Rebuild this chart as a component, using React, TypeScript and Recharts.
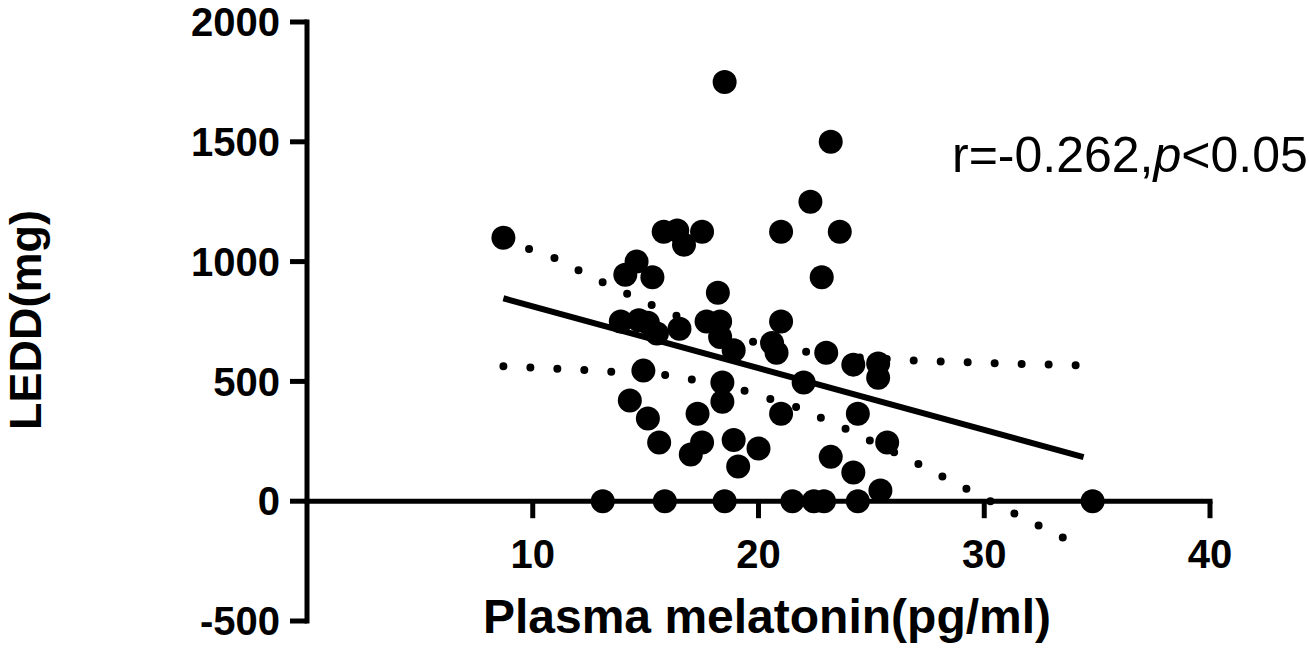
import { ReferenceLine, Scatter, ScatterChart, XAxis, YAxis } from 'recharts'

// ---- data ----
const xTicks = [10, 20, 30, 40]
const yTicks = [-500, 0, 500, 1000, 1500, 2000]

// plasma melatonin (pg/ml) and LEDD (mg) per patient
const melatonin = [
  8.7, 18.5, 23.2, 22.3, 15.8, 16.4, 16.7, 17.5, 21.0, 23.6,
  14.6, 14.1, 15.3, 18.2, 22.8, 13.9, 14.7, 15.1, 15.5, 16.5,
  17.7, 18.3, 18.3, 18.9, 21.0, 20.6, 20.8, 23.0, 24.2, 25.3,
  25.3, 14.9, 14.3, 15.1, 15.6, 18.4, 18.4, 17.3, 17.0, 17.5,
  18.9, 20.0, 19.1, 21.0, 22.0, 24.4, 25.7, 23.2, 24.2, 25.4,
  13.1, 15.85, 18.5, 21.5, 22.45, 22.9, 24.4, 34.8,
]
const ledd = [
  1100, 1750, 1500, 1250, 1125, 1130, 1070, 1125, 1125, 1125,
  1000, 945, 935, 870, 935, 750, 755, 745, 700, 720,
  750, 750, 685, 630, 750, 660, 620, 620, 570, 575,
  515, 545, 420, 345, 245, 495, 415, 365, 195, 245,
  255, 220, 145, 365, 495, 365, 245, 185, 120, 45,
  0, 0, 0, 0, 0, 0, 0, 0,
]

// linear fit
const fitX = [8.7, 34.4]
const fitY = [847, 184]

// 95% confidence bands
const upperX = [8.7, 10.8, 12.9, 15.1, 16.2, 17.9, 19.6, 21.9, 24.0, 26.7, 30.3, 34.4]
const upperY = [1088, 1023, 922, 826, 780, 720, 668, 626, 602, 588, 576, 567]
const lowerX = [8.7, 12.3, 15.9, 17.0, 19.3, 21.7, 23.8, 27.1, 31.3, 34.4]
const lowerY = [563, 547, 526, 509, 463, 392, 305, 154, -50, -195]

const zip = (xs: number[], ys: number[]) => xs.map((x, i) => ({ x, y: ys[i] }))

const points = zip(melatonin, ledd)
const fitLine = zip(fitX, fitY)
const upperBand = zip(upperX, upperY)
const lowerBand = zip(lowerX, lowerY)

// ---- layout ----
const FONT = '"Liberation Sans", Arial, Helvetica, sans-serif'
const W = 1309
const H = 648
const X_AXIS_H = 27
const MARGIN = { top: 22, right: 99, bottom: 0, left: 0 }
const Y_MIN = -500
const Y_MAX = 2000
const PLOT_H = H - MARGIN.top - MARGIN.bottom - X_AXIS_H
// x axis crosses at y = 0, not at the bottom of the plot
const ZERO_FROM_BOTTOM = (PLOT_H * (0 - Y_MIN)) / (Y_MAX - Y_MIN)

function XTick({ x, y, payload }: { x?: number; y?: number; payload?: { value: number } }) {
  const y0 = Number(y ?? 0) - ZERO_FROM_BOTTOM
  return (
    <g>
      <line x1={x} x2={x} y1={y0} y2={y0 + 17} stroke="#000" strokeWidth={5} />
      <text
        x={x}
        y={y0 + 67}
        textAnchor="middle"
        fill="#000"
        fontSize={40}
        fontWeight={700}
        fontFamily={FONT}
      >
        {payload?.value}
      </text>
    </g>
  )
}

const Dot = (props: { cx?: number; cy?: number }) => (
  <circle cx={props.cx} cy={props.cy} r={12} fill="#000" />
)
const NoDot = () => <g />

const dottedLine = {
  stroke: '#000',
  strokeWidth: 8,
  strokeDasharray: '0 27',
  strokeLinecap: 'round' as const,
}

export default function App() {
  return (
    <div style={{ position: 'absolute', left: 0, top: 0, width: W, height: H, background: '#fff' }}>
      <ScatterChart width={W} height={H} margin={MARGIN}>
        <XAxis
          type="number"
          dataKey="x"
          domain={[0, 40]}
          ticks={xTicks}
          interval={0}
          height={X_AXIS_H}
          axisLine={false}
          tickLine={false}
          tickSize={0}
          tickMargin={0}
          tick={(p: any) => <XTick {...p} />}
        />
        <YAxis
          type="number"
          dataKey="y"
          domain={[Y_MIN, Y_MAX]}
          ticks={yTicks}
          interval={0}
          width={307}
          tickSize={17}
          tickMargin={10}
          axisLine={{ stroke: '#000', strokeWidth: 5, strokeLinecap: 'square' }}
          tickLine={{ stroke: '#000', strokeWidth: 5 }}
          tick={{ fill: '#000', fontSize: 40, fontWeight: 700, fontFamily: FONT }}
        />
        <ReferenceLine y={0} stroke="#000" strokeWidth={5} strokeLinecap="square" />
        <Scatter data={upperBand} line={dottedLine} shape={NoDot} isAnimationActive={false} />
        <Scatter data={lowerBand} line={dottedLine} shape={NoDot} isAnimationActive={false} />
        <Scatter
          data={fitLine}
          line={{ stroke: '#000', strokeWidth: 6 }}
          shape={NoDot}
          isAnimationActive={false}
        />
        <Scatter data={points} shape={Dot} isAnimationActive={false} />
      </ScatterChart>
      <svg
        width={W}
        height={H}
        style={{ position: 'absolute', left: 0, top: 0, pointerEvents: 'none' }}
      >
        <text
          transform="translate(41, 320) rotate(-90)"
          textAnchor="middle"
          fill="#000"
          fontSize={45}
          fontWeight={700}
          fontFamily={FONT}
        >
          LEDD(mg)
        </text>
        <text
          x={767}
          y={633}
          textAnchor="middle"
          fill="#000"
          fontSize={48}
          fontWeight={700}
          fontFamily={FONT}
        >
          Plasma melatonin(pg/ml)
        </text>
        <text x={952} y={172} fill="#000" fontSize={50} fontFamily={FONT}>
          r=-0.262,<tspan fontStyle="italic">p</tspan>&lt;0.05
        </text>
      </svg>
    </div>
  )
}
